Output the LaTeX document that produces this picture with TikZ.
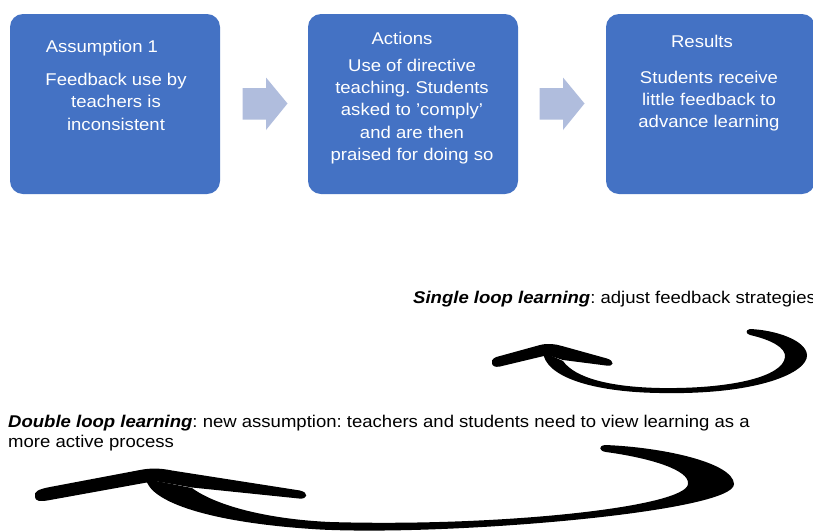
\documentclass[tikz,border=0pt]{standalone}
\usepackage{fontspec}
\setmainfont{Liberation Sans}[FakeStretch=1.09]
\definecolor{boxblue}{HTML}{4472C4}
\definecolor{arrowblue}{HTML}{B0BDDD}
\frenchspacing
\begin{document}
\begin{tikzpicture}[x=1pt,y=-1pt,
  stagebox/.style={fill=boxblue, draw=none, rounded corners=13pt, minimum height=180pt, inner sep=0pt},
  boxtext/.style={text=white, font=\fontsize{17}{22.4}\selectfont, inner sep=0pt, align=center},
  plaintext/.style={text=black, font=\fontsize{17}{20}\selectfont, inner sep=0pt},
  blockarrow/.style={fill=arrowblue, draw=none},
  loopshape/.style={fill=black, draw=none}
]
\useasboundingbox (0,0) rectangle (813,531);
\fill[white] (0,0) rectangle (813,531);

% stage boxes
\node[stagebox, minimum width=210pt] (b1) at (115,104) {};
\node[stagebox, minimum width=210pt] (b2) at (413,104) {};
\node[stagebox, minimum width=209pt] (b3) at (710.5,104) {};

% box texts
\node[boxtext, anchor=base west] (t1a) at (45.6,52) {Assumption 1};
\node[boxtext, anchor=north] (t1b) at (116,73) {Feedback use by\\teachers is\\inconsistent};
\node[boxtext, anchor=base] (t2a) at (402,44) {Actions};
\node[boxtext, anchor=north] (t2b) at (412,58.5) {Use of directive\\teaching. Students\\asked to 'comply'\\and are then\\praised for doing so};
\node[boxtext, anchor=base] (t3a) at (702,47) {Results};
\node[boxtext, anchor=north] (t3b) at (709,70.5) {Students receive\\little feedback to\\advance learning};

% block arrows between boxes
\fill[blockarrow] (242.5,88) -- (266,88) -- (266,77.5) -- (287.5,103.5) -- (266,130) -- (266,119.5) -- (242.5,119.5) -- cycle;
\fill[blockarrow] (539.5,88) -- (563,88) -- (563,77.5) -- (584.5,103.5) -- (563,130) -- (563,119.5) -- (539.5,119.5) -- cycle;

% single loop
\node[plaintext, anchor=base west] (sl) at (413,303) {\textbf{\textit{Single loop learning}}: adjust feedback strategies};
\fill[loopshape] (543,352) .. controls (545,376) and (590,392) .. (660,393)
  .. controls (760,395) and (808,372) .. (807,355)
  .. controls (806,340) and (775,330) .. (750,329)
  .. controls (745,330) and (746,334) .. (750,335)
  .. controls (772,340) and (786,348) .. (785,357)
  .. controls (783,377) and (730,389) .. (660,388)
  .. controls (610,387) and (575,378) .. (563,361) -- cycle;
\fill[loopshape] (492,363) .. controls (491,359) and (495,357) .. (500,356)
  -- (540,345) .. controls (548,343) and (555,344) .. (562,346)
  -- (607,358.5) .. controls (615,361) and (614,367) .. (606,365.5)
  -- (563,360) -- (548,355) -- (500,366.5)
  .. controls (495,367.5) and (492,366) .. (492,363) -- cycle;

% double loop
\node[plaintext, anchor=base west] (dl1) at (8,427) {\textbf{\textit{Double loop learning}}: new assumption: teachers and students need to view learning as a};
\node[plaintext, anchor=base west] (dl2) at (8,447) {more active process};
\fill[loopshape] (146,479) .. controls (150,502) and (210,523) .. (320,529.5)
  .. controls (450,536) and (735,512) .. (734,484)
  .. controls (733,462) and (660,447) .. (605,445)
  .. controls (598,446) and (599,451) .. (606,452)
  .. controls (650,458) and (690,470) .. (688,484)
  .. controls (686,507) and (500,527) .. (330,522)
  .. controls (265,519) and (215,505) .. (192,488) -- cycle;
\fill[loopshape] (35,497) .. controls (33,491) and (40,489) .. (50,487)
  -- (140,470) .. controls (150,468) and (160,468) .. (172,470.5)
  -- (300,490.5) .. controls (309,492.5) and (308,499.5) .. (299,498.5)
  -- (192,487.5) -- (155,481) -- (50,500)
  .. controls (40,502) and (35,501) .. (35,497) -- cycle;
\end{tikzpicture}
\end{document}
